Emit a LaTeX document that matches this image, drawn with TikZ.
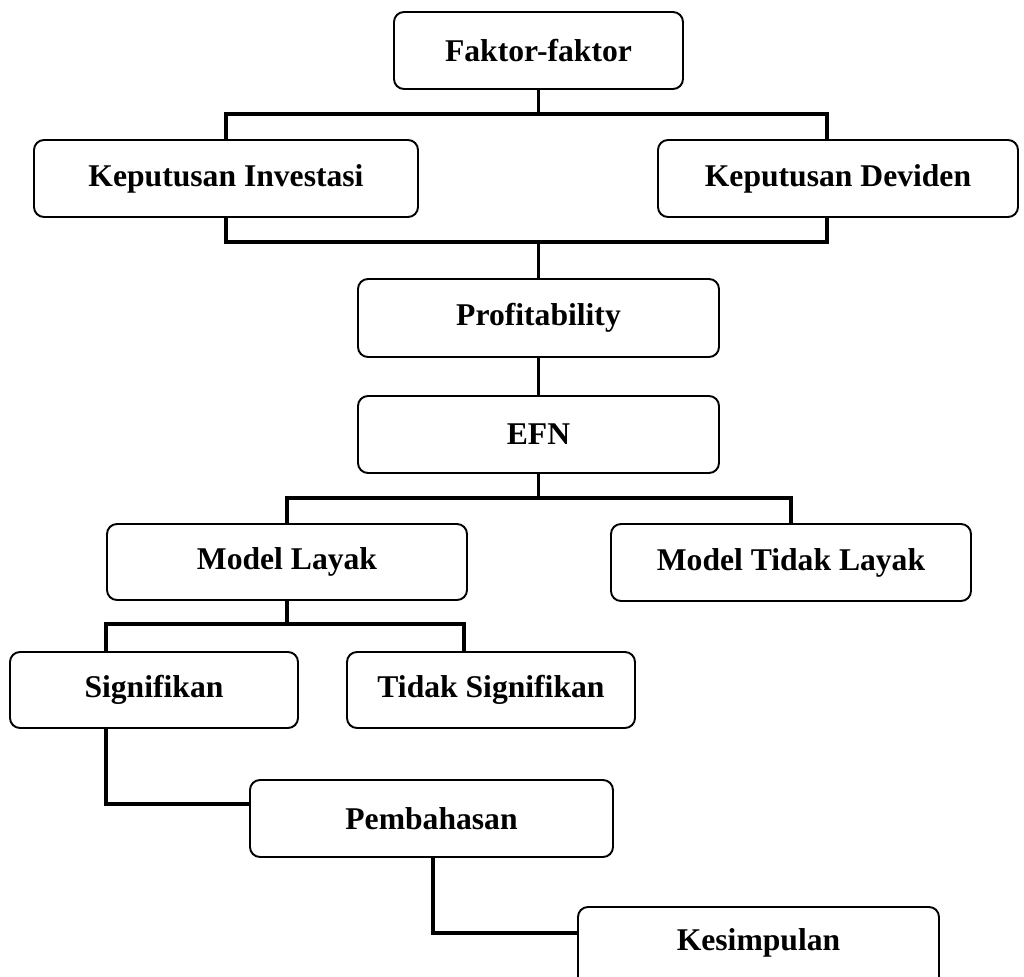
\documentclass[tikz,border=0pt]{standalone}
\usepackage{fontspec}
\setmainfont{Liberation Serif}
\usepackage{tikz}
\usetikzlibrary{calc}
\definecolor{bink}{HTML}{000000}

\tikzset{
  kotak/.style={draw=bink,line width=1.1pt,rounded corners=0.2cm,fill=white,
    align=center,inner sep=0pt,font=\fontsize{18}{21}\selectfont\bfseries},
  garis/.style={draw=bink,line width=1.8pt,line cap=rect}
}

\begin{document}
\begin{tikzpicture}
\useasboundingbox (0,0) rectangle (20.48,-19.54);
% kotak-kotak
\node[kotak,minimum width=5.78cm,minimum height=1.54cm] (faktor) at (10.77,-1.01) {Faktor-faktor};
\node[kotak,minimum width=7.68cm,minimum height=1.54cm] (invest) at (4.52,-3.57) {Keputusan Investasi};
\node[kotak,minimum width=7.2cm,minimum height=1.54cm] (deviden) at (16.76,-3.57) {Keputusan Deviden};
\node[kotak,minimum width=7.22cm,minimum height=1.56cm] (profit) at (10.77,-6.36) {Profitability};
\node[kotak,minimum width=7.22cm,minimum height=1.54cm] (efn) at (10.77,-8.69) {EFN};
\node[kotak,minimum width=7.2cm,minimum height=1.52cm] (layak) at (5.74,-11.24) {Model Layak};
\node[kotak,minimum width=7.2cm,minimum height=1.54cm] (tdklayak) at (15.82,-11.25) {Model Tidak Layak};
\node[kotak,minimum width=5.76cm,minimum height=1.52cm] (signif) at (3.08,-13.8) {Signifikan};
\node[kotak,minimum width=5.76cm,minimum height=1.52cm] (tdksignif) at (9.82,-13.8) {Tidak Signifikan};
\node[kotak,minimum width=7.26cm,minimum height=1.54cm] (bahas) at (8.63,-16.37) {Pembahasan};
% kotak terakhir terpotong di tepi bawah
\node[kotak,minimum width=7.22cm,minimum height=1.8cm,text depth=0.5cm] (simpul) at (15.17,-19.04) {Kesimpulan};

% garis penghubung
\coordinate (atas) at (10.77,-2.28);
\coordinate (bawah) at (10.77,-4.84);
\draw[garis] (faktor.south) -- (atas);
\draw[garis] (invest.north) |- (atas) -| ([xshift=-0.22cm]deviden.north);
\draw[garis] (invest.south) |- (bawah) -| ([xshift=-0.22cm]deviden.south);
\draw[garis] (bawah) -- (profit.north);
\draw[garis] (profit) -- (efn);
\coordinate (cabang) at (10.77,-9.96);
\draw[garis] (efn.south) -- (cabang);
\draw[garis] (layak.north) |- (cabang) -| (tdklayak.north);
\coordinate (cabang2) at (5.74,-12.48);
\draw[garis] (layak.south) -- (cabang2);
\draw[garis] ([xshift=-0.96cm]signif.north) |- (cabang2) -| ([xshift=-0.54cm]tdksignif.north);
\draw[garis] ([xshift=-0.96cm]signif.south) |- ([yshift=0.29cm]bahas.west);
\draw[garis] ([xshift=0.03cm]bahas.south) |- ([yshift=0.38cm]simpul.west);
\end{tikzpicture}
\end{document}
